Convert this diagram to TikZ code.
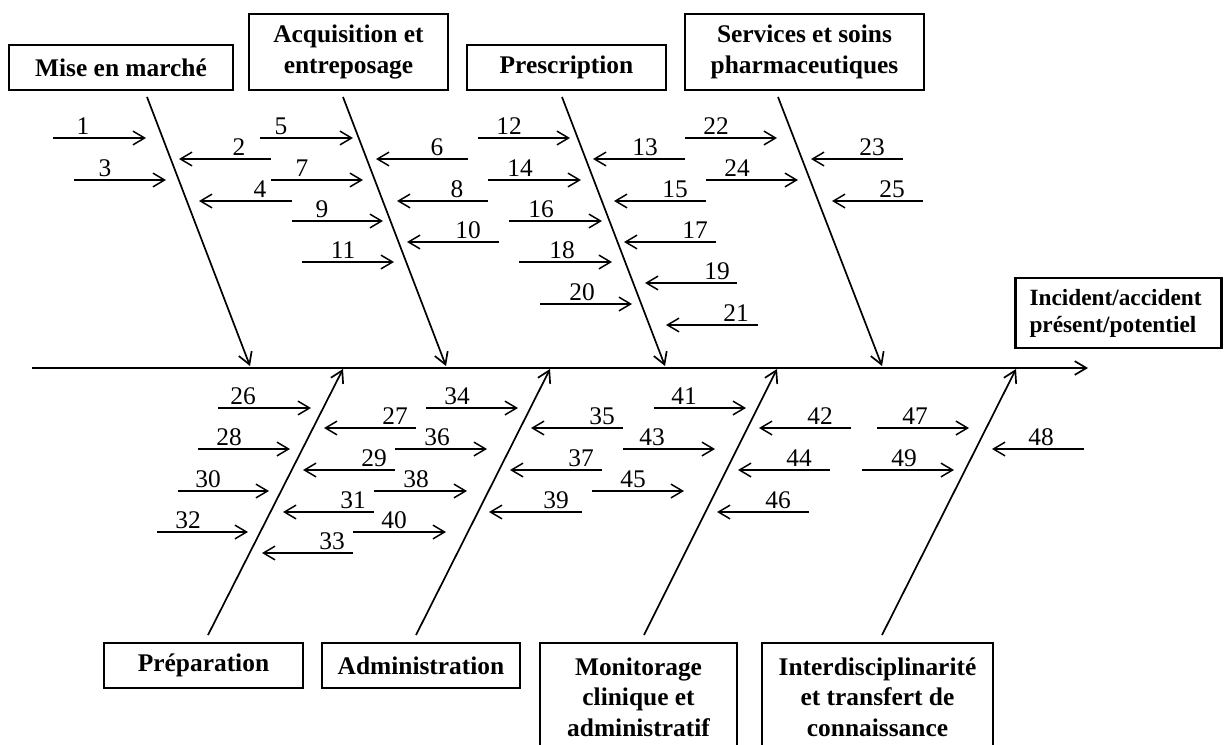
\documentclass[tikz,border=0pt]{standalone}
\usepackage{fontspec}
\setmainfont{Liberation Serif}
\usetikzlibrary{arrows.meta}

\newcommand{\px}{0.4724pt}
\tikzset{
  box/.style={draw, line width=1.1pt, inner sep=0pt, align=center,
    font=\bfseries\fontsize{12}{14.4}\selectfont},
  bone/.style={line width=0.8pt, -{Straight Barb[length=5.5pt,width=6.5pt]}},
  cause/.style={line width=0.7pt, -{Straight Barb[length=5.5pt,width=6.5pt]}},
  num/.style={anchor=south, inner sep=1pt, font=\fontsize{12}{14}\selectfont},
}

\begin{document}
\begin{tikzpicture}[x=\px, y=-\px]
\useasboundingbox (0,0) rectangle (1224,744);

% category boxes, top row
\node[box, minimum width=224*\px, minimum height=45*\px] (mise) at (121,67.5) {Mise en march\'e};
\node[box, minimum width=199*\px, minimum height=76*\px] (acq) at (348.5,52) {Acquisition et\\entreposage};
\node[box, minimum width=199*\px, minimum height=45*\px] (presc) at (566.5,67.5) {Prescription};
\node[box, minimum width=239*\px, minimum height=76*\px] (serv) at (804.5,52) {Services et soins\\pharmaceutiques};

% category boxes, bottom row
\node[box, minimum width=199*\px, minimum height=45*\px] (prep) at (203.5,665.5) {Pr\'eparation};
\node[box, minimum width=198*\px, minimum height=45*\px] (admin) at (421,665.5) {Administration};
\node[box, minimum width=197*\px, minimum height=108*\px] (monit) at (638.5,697) {Monitorage\\clinique et\\administratif};
\node[box, minimum width=231*\px, minimum height=108*\px] (inter) at (877.5,697) {Interdisciplinarit\'e\\et transfert de\\connaissance};

% effect
\node[box, align=left, text width=178*\px, inner xsep=14*\px, minimum height=70*\px,
  font=\bfseries\fontsize{11}{12.8}\selectfont] (incid) at (1118.5,313) {Incident/accident\\pr\'esent/potentiel};

% spine
\coordinate (head) at (32,368);
\coordinate (tip) at (1088,368);
\draw[bone] (head) -- (tip);

% bones
\foreach \b/\xa/\ya/\xb/\yb in {mise/147/97/250/366, acq/343/97/446/366,
    presc/562/97/665/366, serv/778/97/882/366,
    prep/208/635/343/369, admin/416/635/550/369,
    monit/644/635/777/369, inter/882/635/1016/369}{
  \coordinate (\b-s) at (\xa,\ya);
  \coordinate (\b-e) at (\xb,\yb);
  \draw[bone] (\b-s) -- (\b-e);
}

% causes: number / tail x / tip x / y / label x
\foreach \n/\xa/\xb/\y/\lx in {
    1/53/146/138/83, 3/74/166/180/105, 2/271/179/159/239, 4/292/199/201/260,
    5/260/353/138/281, 7/271/363/180/302, 9/292/383/221/322, 11/302/394/262/343,
    6/468/376/159/437, 8/488/397/201/457, 10/499/407/242/468,
    12/478/570/138/509, 14/488/581/180/520, 16/509/602/221/541, 18/519/612/262/562, 20/540/632/304/582,
    13/685/593/159/645, 15/706/614/201/675, 17/716/624/242/695, 19/737/645/283/717, 21/758/666/325/736,
    22/685/777/138/716, 24/706/798/180/737, 23/903/811/159/872, 25/923/832/201/892,
    26/218/311/408/243, 28/198/290/449/229, 30/178/269/491/208, 32/157/248/532/188,
    27/416/324/428/395, 29/395/303/470/374, 31/374/283/512/353, 33/353/262/553/332,
    34/426/518/408/457, 36/395/487/449/437, 38/374/467/491/416, 40/353/446/532/394,
    35/623/531/428/602, 37/602/510/470/581, 39/582/489/512/556,
    41/654/746/408/684, 43/623/715/449/652, 45/592/684/491/633,
    42/851/759/428/820, 44/830/738/470/799, 46/809/717/512/778,
    47/877/969/428/915, 49/862/954/470/904, 48/1084/992/449/1041}{
  \coordinate (c\n-s) at (\xa,\y);
  \coordinate (c\n-e) at (\xb,\y);
  \draw[cause] (c\n-s) -- (c\n-e);
  \node[num] (n\n) at (\lx,\y-1) {\n};
}
\end{tikzpicture}
\end{document}
